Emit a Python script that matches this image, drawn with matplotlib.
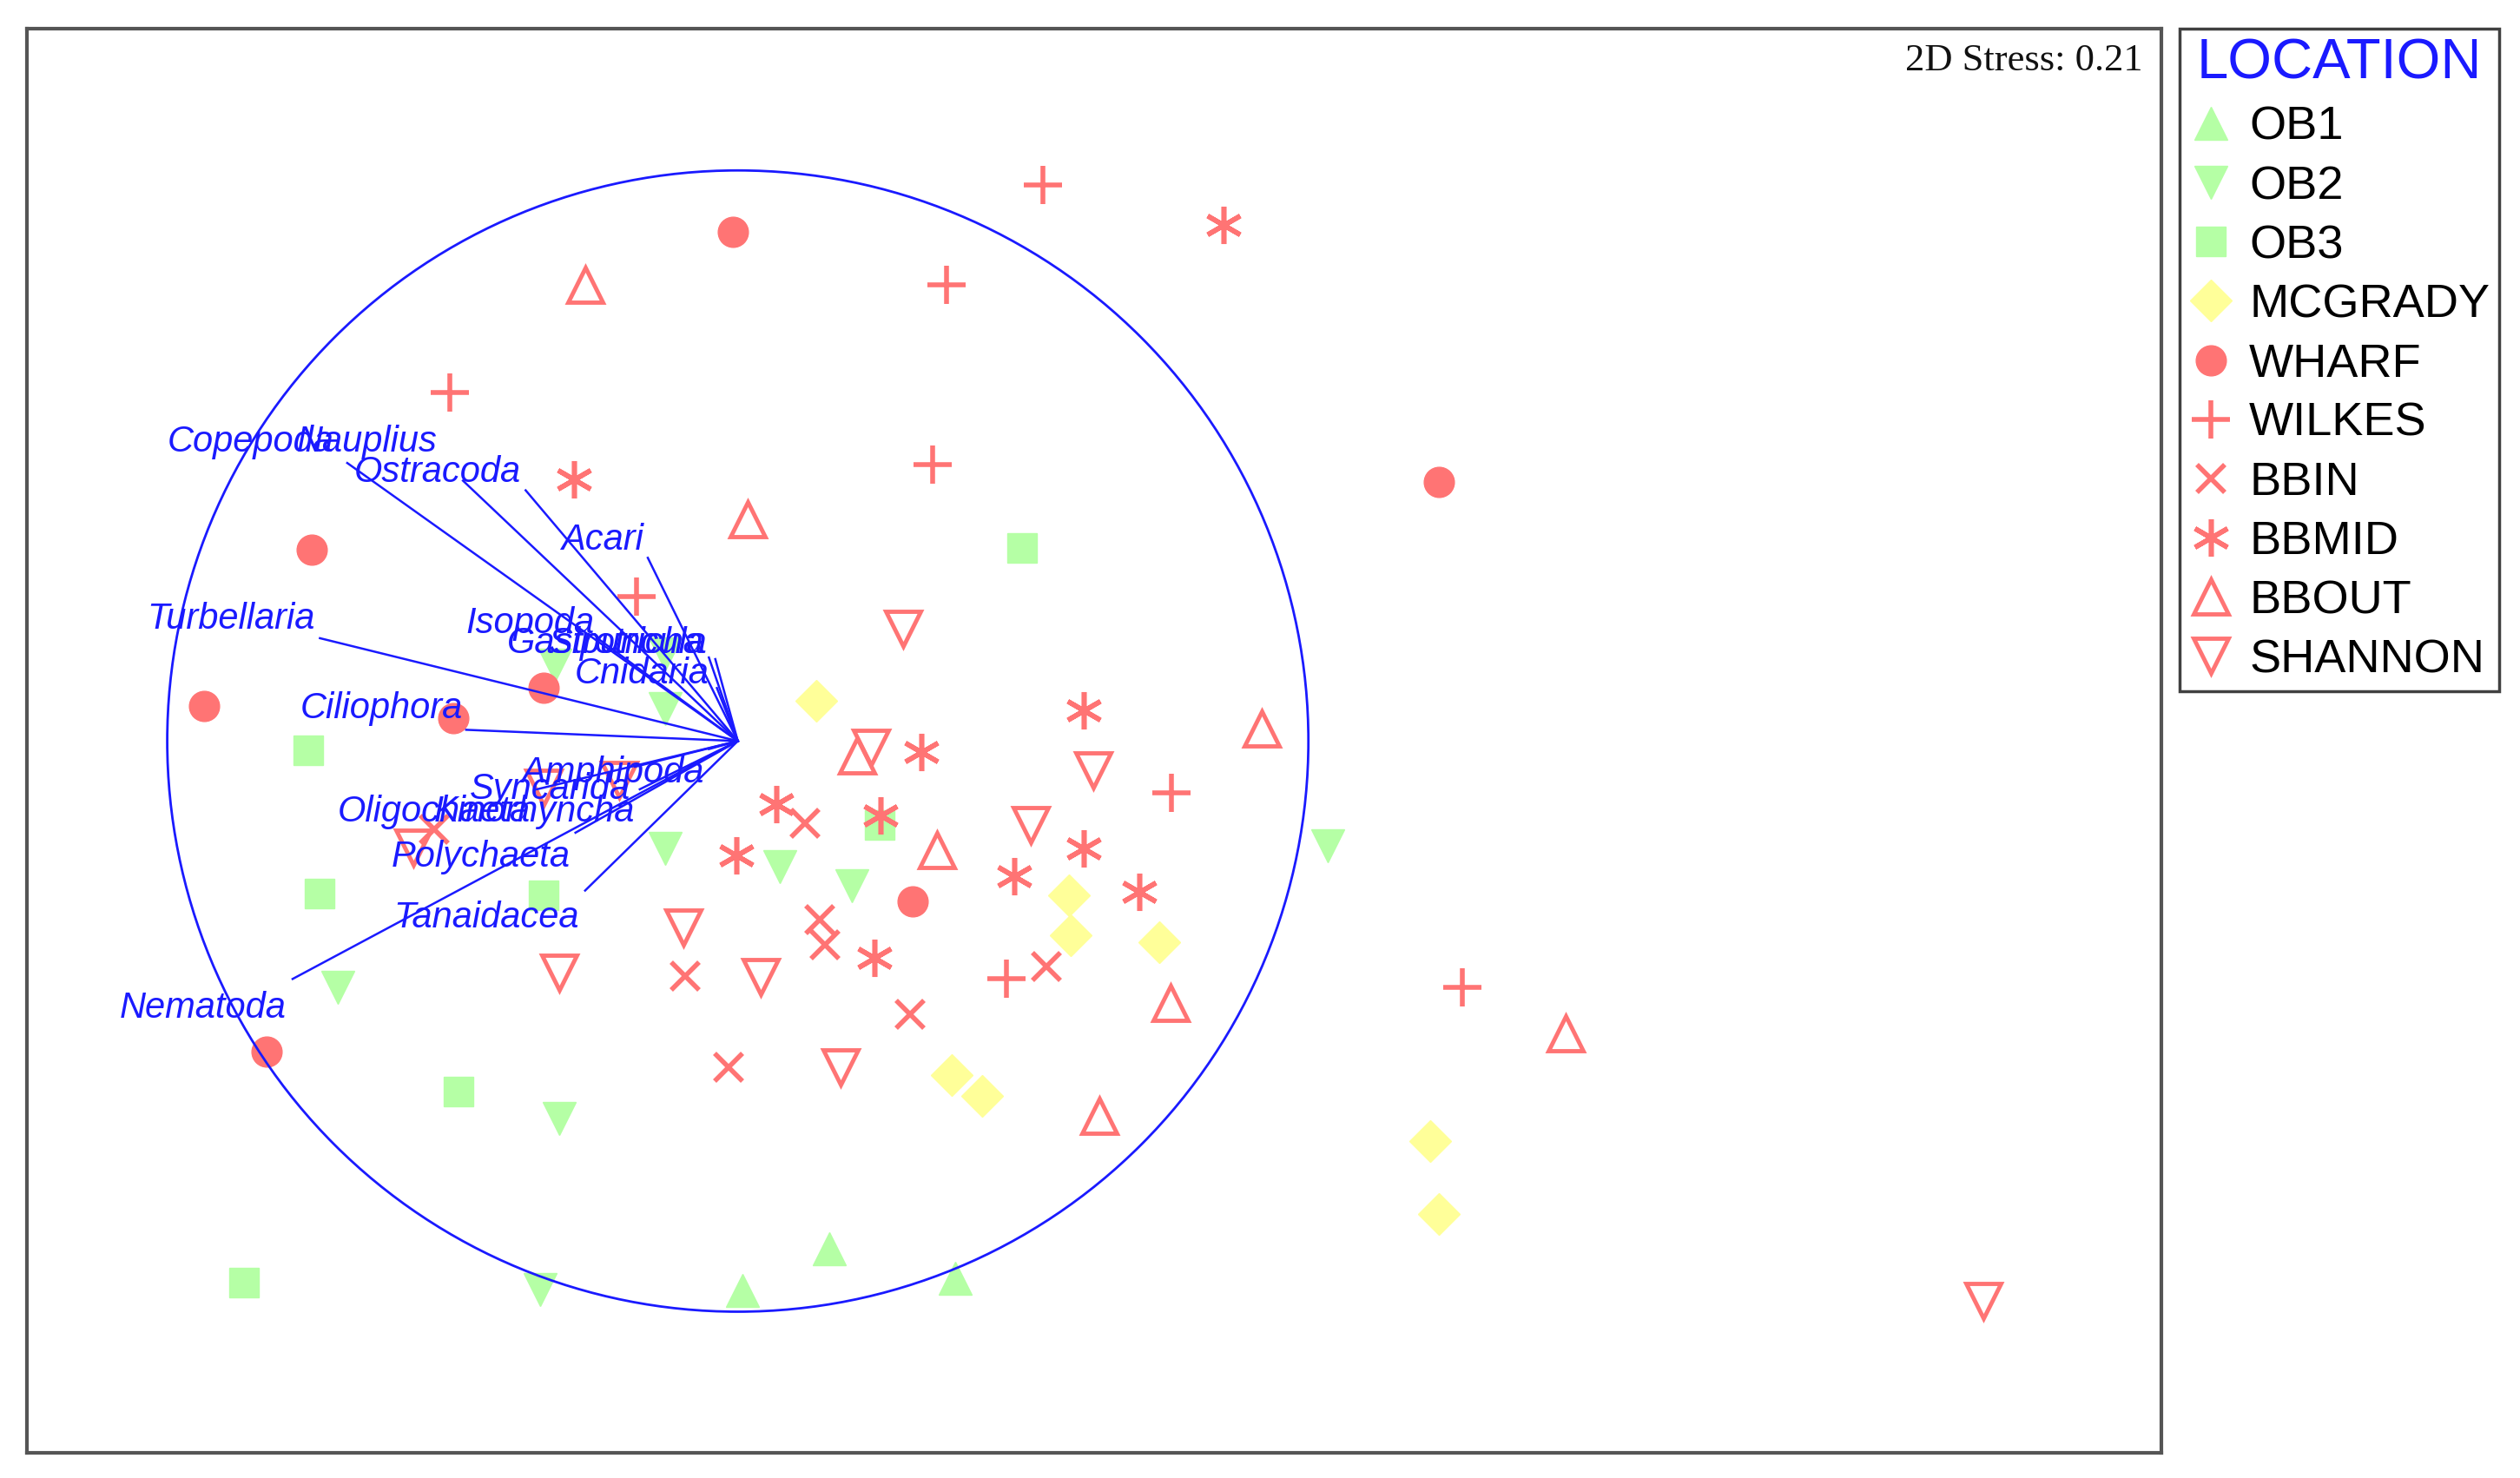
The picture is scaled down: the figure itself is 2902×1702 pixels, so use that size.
import matplotlib.pyplot as plt
from matplotlib.patches import Circle

# nMDS sample coordinates (plot units, y grows downward like the original print)
ob1_x = [516, 462, 594]
ob1_y = [777, 803, 795]
ob2_x = [345, 414, 414, 414, 485, 530, 826, 210, 348, 336]
ob2_y = [414, 407, 441, 528, 539, 551, 526, 614, 696, 802]
ob3_x = [636, 192, 199, 338, 285, 152, 547]
ob3_y = [341, 467, 556, 557, 679, 798, 513]
mcgrady_x = [508, 665, 666, 721, 592, 611, 890, 895]
mcgrady_y = [436, 557, 582, 586, 669, 682, 710, 755]
wharf_x = [456, 895, 194, 127, 338, 282, 568, 166]
wharf_y = [144, 300, 342, 439, 428, 447, 561, 654]
wilkes_x = [649, 589, 280, 580, 396, 729, 626, 910]
wilkes_y = [115, 177, 244, 289, 371, 493, 609, 614]
bbin_x = [270, 501, 510, 513, 426, 651, 566, 453]
bbin_y = [516, 512, 572, 588, 607, 601, 631, 664]
bbmid_x = [761, 357, 674, 573, 483, 548, 458, 674, 631, 709, 544]
bbmid_y = [140, 298, 442, 468, 500, 507, 532, 528, 545, 555, 596]
bbout_x = [364, 465, 533, 583, 785, 728, 684, 974]
bbout_y = [177, 323, 470, 529, 453, 624, 694, 643]
shannon_x = [562, 542, 680, 641, 425, 473, 348, 523, 1234, 338, 385, 257]
shannon_y = [391, 465, 479, 513, 577, 608, 605, 664, 809, 490, 485, 527]

# vector overlay (Pearson correlations), circle centre and radius
origin = (459, 461)
radius = 355
species = ["Copepoda", "Nauplius", "Ostracoda", "Acari", "Turbellaria",
           "Isopoda", "Gastrotricha", "Sipuncula", "Cnidaria", "Ciliophora",
           "Amphipoda", "Syncarida", "Oligochaeta", "Kinorhyncha",
           "Polychaeta", "Tanaidacea", "Nematoda"]
vec_x = [216, 288, 327, 403, 199, 373, 441, 445, 446, 290,
         441, 395, 334, 398, 358, 364, 182]
vec_y = [288, 299, 305, 347, 397, 398, 409, 410, 428, 454,
         466, 477, 491, 491, 518, 554, 609]
# label anchors (right end, baseline)
lab_x = [208, 272, 324, 400, 196, 370, 438, 440, 441, 288,
         438, 392, 330, 395, 355, 360, 178]
lab_y = [281, 281, 300, 342, 391, 394, 406, 406, 425, 447,
         487, 497, 511, 511, 539, 577, 633]

red = "#ff7474"
green = "#b5ffa5"
yellow = "#ffff99"
blue = "#1a1aff"

groups = [
    ("OB1", ob1_x, ob1_y, dict(marker="^", ms=28, color=green, mec=green)),
    ("OB2", ob2_x, ob2_y, dict(marker="v", ms=28, color=green, mec=green)),
    ("OB3", ob3_x, ob3_y, dict(marker="s", ms=24, color=green, mec=green)),
    ("MCGRADY", mcgrady_x, mcgrady_y, dict(marker="D", ms=24, color=yellow, mec=yellow)),
    ("WHARF", wharf_x, wharf_y, dict(marker="o", ms=25, color=red, mec=red)),
    ("WILKES", wilkes_x, wilkes_y, dict(marker="+", ms=31, mew=4, color=red)),
    ("BBIN", bbin_x, bbin_y, dict(marker="x", ms=23, mew=4, color=red)),
    ("BBMID", bbmid_x, bbmid_y, dict(marker=(6, 2, 0), ms=31, mew=4, color=red)),
    ("BBOUT", bbout_x, bbout_y, dict(marker="^", ms=29, mew=3.5, mfc="none", mec=red, color=red)),
    ("SHANNON", shannon_x, shannon_y, dict(marker="v", ms=29, mew=3.5, mfc="none", mec=red, color=red)),
]

fig = plt.figure(figsize=(29.02, 17.02), dpi=100)
ax = fig.add_axes([31 / 2902, 1 - 1673 / 1702, 2458 / 2902, 1640 / 1702])
ax.set_xlim(16.7, 1344.7)
ax.set_ylim(903.8, 17.8)
ax.set_xticks([])
ax.set_yticks([])
for sp in ax.spines.values():
    sp.set_color("#555555")
    sp.set_linewidth(3)

handles = []
for name, xs, ys, style in groups:
    h, = ax.plot(xs, ys, linestyle="none", label=name, zorder=2, **style)
    handles.append(h)

ax.add_patch(Circle(origin, radius, fill=False, edgecolor=blue, lw=2, zorder=3))
for name, ex, ey, lx, ly in zip(species, vec_x, vec_y, lab_x, lab_y):
    ax.plot([origin[0], ex], [origin[1], ey], color=blue, lw=1.8, zorder=3)
    ax.text(lx, ly, name, ha="right", va="baseline", color=blue,
            fontsize=30, style="italic", family="Liberation Sans", zorder=4)

ax.text(1333, 38, "2D Stress: 0.21", ha="right", va="center",
        fontsize=32, family="Liberation Serif", color="#111111")

leg = fig.legend(handles=handles, loc="upper left",
                 bbox_to_anchor=(2510 / 2902, 1 - 33 / 1702),
                 title="LOCATION", title_fontsize=47,
                 prop={"family": "Liberation Sans", "size": 39},
                 borderpad=0.2, labelspacing=0.335, handlelength=0.93,
                 handletextpad=0.35, borderaxespad=0, fancybox=False,
                 edgecolor="#404040", framealpha=1)
leg.get_frame().set_linewidth(2.5)
leg.get_title().set_color(blue)
leg.get_title().set_family("Liberation Sans")

fig.savefig("out.png", dpi=100)
